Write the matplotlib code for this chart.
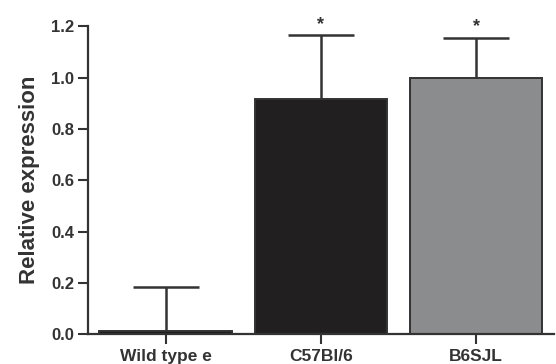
import numpy as np
import matplotlib.pyplot as plt

# -- data
groups = ['Wild type e', 'C57Bl/6', 'B6SJL']
means = [0.014, 0.915, 1.0]
errs = [0.17, 0.25, 0.155]
stars = ['', '*', '*']
colors = ['#1e1c1d', '#221f20', '#8a8c8e']

plt.rcParams['font.family'] = ['Liberation Sans', 'DejaVu Sans']
plt.rcParams['font.weight'] = 'bold'

fig = plt.figure(figsize=(5.56, 3.64), dpi=100)
ax = fig.add_axes([0.158, 0.082, 0.838, 0.846])

x = np.arange(len(groups))
ax.bar(x, means, width=0.85, color=colors, edgecolor='#333333', linewidth=1.4)
# upper error bars only (no lower cap)
eb = ax.errorbar(x, means, yerr=[np.zeros(len(errs)), errs], fmt='none',
                 ecolor='#333333', elinewidth=1.8, capsize=24, capthick=1.8)
eb[1][0].set_visible(False)
for xi, m, e, s in zip(x, means, errs, stars):
    if s:
        ax.text(xi, m + e + 0.01, s, ha='center', va='bottom', fontsize=13,
                fontweight='bold', color='#333333', clip_on=False)

ax.set_xlim(-0.5, 2.5)
ax.set_ylim(0, 1.2)
ax.set_yticks([0.0, 0.2, 0.4, 0.6, 0.8, 1.0, 1.2])
ax.set_yticklabels(['0.0', '0.2', '0.4', '0.6', '0.8', '1.0', '1.2'],
                   fontweight='bold')
ax.set_xticks(x)
ax.set_xticklabels(groups, fontsize=12.5, fontweight='bold', color='#333333')
ax.set_ylabel('Relative expression', fontsize=16, fontweight='bold',
              color='#333333', labelpad=8)
ax.tick_params(axis='y', labelsize=12, labelcolor='#333333', length=7, width=1.5,
               color='#333333', pad=3)
ax.tick_params(axis='x', length=7, width=1.5, color='#333333', pad=4)
for side in ['top', 'right']:
    ax.spines[side].set_visible(False)
for side in ['left', 'bottom']:
    ax.spines[side].set_linewidth(1.6)
    ax.spines[side].set_color('#333333')

fig.savefig('out.png', dpi=100)
